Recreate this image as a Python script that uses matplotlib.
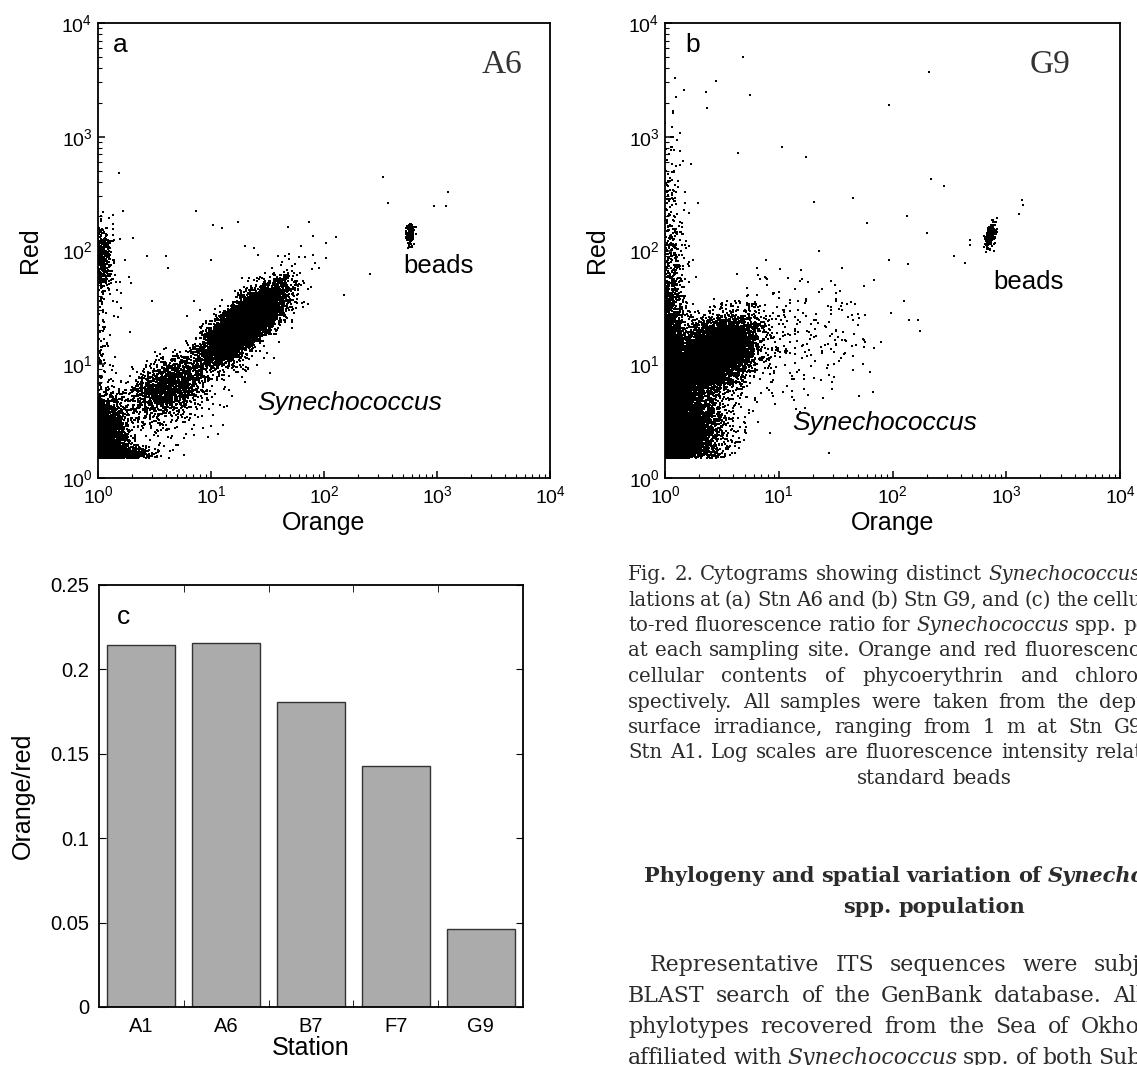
#!/usr/bin/env python3
"""
Fig. 2: flow cytograms for Stn A6 and G9 plus the orange/red ratio by station,
with the caption and the following section start set beside them.
"""

import matplotlib
matplotlib.use("Agg")
import matplotlib.pyplot as plt
import numpy as np
from matplotlib.ticker import LogLocator, NullFormatter, FixedLocator, FixedFormatter
from matplotlib.transforms import IdentityTransform

W_PX, H_PX = 1137, 1065

# ---- panel c -------------------------------------------------------------
STATIONS = ["A1", "A6", "B7", "F7", "G9"]
ORANGE_RED = [0.2145, 0.2155, 0.1805, 0.1425, 0.0465]

# ---- cytograms -----------------------------------------------------------
# Event clouds, in log10 units of (orange, red):
# (x centre, y centre, sd along main axis, sd across, main axis angle deg, events)
# Events below channel 1 pile up on the axis, and nothing is recorded under 1.5 red.
RED_FLOOR = np.log10(1.5)

A6_CLUSTERS = [
    (1.30, 1.36, 0.21, 0.075, 42, 8000),   # Synechococcus core
    (1.25, 1.30, 0.30, 0.120, 42, 900),    # its halo
    (0.62, 0.80, 0.18, 0.105, 30, 1500),   # dimmer tail
    (0.60, 0.65, 0.28, 0.160, 30, 320),
    (0.00, 0.38, 0.17, 0.120, 90, 2200),   # noise in the corner
    (0.18, 0.21, 0.13, 0.035, 0, 900),     # band on the trigger threshold
    (0.00, 1.93, 0.13, 0.060, 90, 380),    # red-only particles on the axis
    (0.00, 1.80, 0.30, 0.110, 90, 70),
    (0.00, 1.10, 0.25, 0.040, 90, 50),
    (2.76, 2.14, 0.045, 0.017, 88, 170),   # beads
]
A6_OUT_X = [0.19, 0.87, 1.02, 1.10, 1.24, 1.68, 1.87, 2.11, 2.52, 2.57, 2.97, 3.08,
            3.10, 2.41, 2.18, 0.43, 0.60, 0.62, 1.00, 1.30, 1.38, 1.42, 0.31, 0.27,
            0.48, 0.85, 0.79, 0.15, 0.06, 1.52, 1.41, 0.97, 0.76, 0.85, 1.14, 0.05,
            0.03, 1.80, 1.90, 1.78, 1.92, 1.96, 2.02]
A6_OUT_Y = [2.68, 2.35, 2.22, 2.20, 2.25, 2.21, 2.25, 2.12, 2.65, 2.42, 2.39, 2.39,
            2.51, 1.79, 1.61, 1.95, 1.95, 1.85, 1.92, 2.04, 2.02, 1.96, 2.11, 1.77,
            1.56, 1.56, 1.42, 1.06, 1.16, 0.92, 0.99, 0.36, 0.35, 0.38, 0.63, 1.31,
            1.03, 2.04, 2.13, 1.94, 1.89, 1.85, 2.07]

G9_CLUSTERS = [
    (0.00, 0.90, 0.42, 0.080, 90, 3500),   # strip on the orange axis
    (0.00, 0.45, 0.22, 0.180, 90, 5000),   # corner
    (0.40, 1.08, 0.20, 0.120, 35, 7000),   # Synechococcus
    (0.45, 1.00, 0.30, 0.180, 35, 900),
    (0.32, 0.45, 0.18, 0.160, 0, 600),
    (0.00, 2.00, 0.50, 0.100, 90, 260),    # red-only particles
    (1.15, 1.25, 0.40, 0.300, 20, 230),    # sparse scatter
    (2.86, 2.13, 0.055, 0.022, 75, 170),   # beads
]
G9_OUT_X = [0.69, 2.32, 1.97, 0.17, 0.36, 0.45, 0.75, 0.37, 1.03, 1.24, 0.64, 2.34,
            2.45, 1.65, 1.31, 2.13, 1.78, 2.30, 3.14, 3.15, 3.11, 2.54, 2.64, 2.68,
            2.68, 2.14, 1.84, 1.75, 1.76, 1.65, 1.74, 1.65, 1.47, 0.92, 1.39, 0.81,
            1.15]
G9_OUT_Y = [3.70, 3.57, 3.28, 3.41, 3.39, 3.49, 3.37, 3.25, 2.91, 2.82, 2.86, 2.63,
            2.57, 2.46, 2.43, 2.30, 2.24, 2.15, 2.44, 2.40, 2.32, 1.95, 1.89, 2.09,
            2.05, 1.88, 1.74, 1.21, 1.20, 1.07, 1.00, 0.95, 0.84, 0.40, 0.70, 0.67,
            0.61]

# ---- caption and running text ----------------------------------------------
CAPTION = [
    "Fig. 2. Cytograms showing distinct _Synechococcus_ subpopu-",
    "lations at (a) Stn A6 and (b) Stn G9, and (c) the cellular orange-",
    "to-red fluorescence ratio for _Synechococcus_ spp. populations",
    "at each sampling site. Orange and red fluorescence indicate",
    "cellular contents of phycoerythrin and chlorophyll, re-",
    "spectively. All samples were taken from the depth of 10%",
    "surface irradiance, ranging from 1 m at Stn G9 to 27 m",
    "Stn A1. Log scales are fluorescence intensity relative to the",
]
CAPTION_LAST = "standard beads"
HEADING = ["Phylogeny and spatial variation of _Synechococcus_", "spp. population"]
BODY = [
    "Representative ITS sequences were subjected to",
    "BLAST search of the GenBank database. All the ITS",
    "phylotypes recovered from the Sea of Okhotsk were",
    "affiliated with _Synechococcus_ spp. of both Subcluster 5.1",
]

SANS = "Liberation Sans"
SERIF = "DejaVu Serif"
TEXT_GRAY = "#2b2b2b"
COL_LEFT, COL_RIGHT = 628, 1240

plt.rcParams["font.family"] = [SANS, "DejaVu Sans"]


def events(rng, clusters, out_x, out_y):
    xs, ys = [], []
    for cx, cy, s1, s2, ang, n in clusters:
        t = np.deg2rad(ang)
        u = rng.normal(0, s1, n)
        v = rng.normal(0, s2, n)
        xs.append(cx + u * np.cos(t) - v * np.sin(t))
        ys.append(cy + u * np.sin(t) + v * np.cos(t))
    x = np.abs(np.concatenate(xs + [np.array(out_x)]))
    y = np.concatenate(ys + [np.array(out_y)])
    y = RED_FLOOR + np.abs(y - RED_FLOOR)
    return 10 ** x, 10 ** y


def cytogram(ax, x, y, tag, tag_xy, station, station_xy, beads_xy, syn_xy):
    ax.scatter(x, y, s=1.8, marker="s", c="black", linewidths=0)
    ax.set_xscale("log")
    ax.set_yscale("log")
    ax.set_xlim(1, 1e4)
    ax.set_ylim(1, 1e4)
    for axis in (ax.xaxis, ax.yaxis):
        axis.set_major_locator(LogLocator(base=10, numticks=10))
        axis.set_minor_locator(LogLocator(base=10, subs=np.arange(2, 10), numticks=10))
        axis.set_minor_formatter(NullFormatter())
    ax.tick_params(which="both", direction="in", top=False, right=False, labelsize=14)
    ax.tick_params(axis="x", which="major", pad=5)
    ax.tick_params(axis="y", which="major", pad=4)
    ax.tick_params(which="major", length=5, width=1.1)
    ax.tick_params(which="minor", length=3, width=0.8)
    for sp in ax.spines.values():
        sp.set_linewidth(1.3)
    ax.set_xlabel("Orange", fontsize=18, labelpad=3)
    ax.set_ylabel("Red", fontsize=18, labelpad=14)
    ax.text(*tag_xy, tag, transform=ax.transAxes, fontsize=19, ha="left", va="center")
    ax.text(*station_xy, station, transform=ax.transAxes, fontsize=24, ha="right",
            va="center", family="Liberation Serif", color="#333333")
    ax.text(*beads_xy, "beads", fontsize=18.5, ha="left", va="center")
    ax.text(*syn_xy, "Synechococcus", fontsize=19, style="italic", ha="left", va="center")


def split_words(line):
    out = []
    for w in line.split():
        if w.startswith("_") and w.endswith("_"):
            out.append((w.strip("_"), True))
        else:
            out.append((w, False))
    return out


def put_line(fig, renderer, line, base_y, size, weight="normal", indent=0,
             justify=True, center=None):
    px = IdentityTransform()
    items = []
    for w, it in split_words(line):
        t = fig.text(0, 0, w, transform=px, fontsize=size, family=SERIF,
                     style="italic" if it else "normal", weight=weight,
                     color=TEXT_GRAY, ha="left", va="baseline")
        items.append((t, t.get_window_extent(renderer).width))
    space = size * 100 / 72 * 0.318
    total = sum(w for _, w in items)
    x = COL_LEFT + indent
    gap = space
    if justify and len(items) > 1:
        gap = max((COL_RIGHT - x - total) / (len(items) - 1), 0.8 * space)
    if center is not None:
        x = center - (total + space * (len(items) - 1)) / 2
    for t, w in items:
        t.set_position((x, H_PX - base_y))
        x += w + gap


def main():
    rng = np.random.default_rng(7)
    fig = plt.figure(figsize=(W_PX / 100, H_PX / 100), dpi=100)

    ax_a = fig.add_axes([98 / W_PX, 1 - 478 / H_PX, 452 / W_PX, 455 / H_PX])
    ax_b = fig.add_axes([665 / W_PX, 1 - 478 / H_PX, 455 / W_PX, 455 / H_PX])
    ax_c = fig.add_axes([99 / W_PX, 1 - 1007 / H_PX, 424 / W_PX, 422 / H_PX])

    xa, ya = events(rng, A6_CLUSTERS, A6_OUT_X, A6_OUT_Y)
    cytogram(ax_a, xa, ya, "a", (0.033, 0.952), "A6", (0.939, 0.908), (500, 73), (25.9, 4.6))
    xb, yb = events(rng, G9_CLUSTERS, G9_OUT_X, G9_OUT_Y)
    cytogram(ax_b, xb, yb, "b", (0.044, 0.952), "G9", (0.892, 0.909), (766, 53), (13.1, 3.03))

    pos = np.arange(len(STATIONS))
    ax_c.bar(pos, ORANGE_RED, width=0.8, color="#ababab", edgecolor="#333333", linewidth=1.0)
    ax_c.set_xlim(-0.5, len(STATIONS) - 0.5)
    ax_c.set_ylim(0, 0.25)
    ax_c.set_xticks(pos)
    ax_c.set_xticklabels(STATIONS)
    ax_c.xaxis.set_minor_locator(FixedLocator(pos[:-1] + 0.5))
    ax_c.yaxis.set_major_locator(FixedLocator([0, 0.05, 0.1, 0.15, 0.2, 0.25]))
    ax_c.yaxis.set_major_formatter(FixedFormatter(["0", "0.05", "0.1", "0.15", "0.2", "0.25"]))
    ax_c.tick_params(axis="x", which="major", length=0, pad=7, labelsize=14.5)
    ax_c.tick_params(axis="x", which="minor", direction="in", length=5, top=True, bottom=True)
    ax_c.tick_params(axis="y", direction="in", length=5, left=True, right=True,
                     labelsize=14.5, pad=7)
    for sp in ax_c.spines.values():
        sp.set_linewidth(1.3)
    ax_c.set_xlabel("Station", fontsize=18, labelpad=0)
    ax_c.set_ylabel("Orange/red", fontsize=18, labelpad=11)
    ax_c.text(0.042, 0.925, "c", transform=ax_c.transAxes, fontsize=19, ha="left", va="center")

    renderer = fig.canvas.get_renderer()
    cap_size = 14.2
    for i, line in enumerate(CAPTION):
        put_line(fig, renderer, line, 580 + 25.5 * i, cap_size)
    put_line(fig, renderer, CAPTION_LAST, 580 + 25.5 * len(CAPTION), cap_size,
             justify=False, center=(COL_LEFT + COL_RIGHT) / 2)

    for i, line in enumerate(HEADING):
        put_line(fig, renderer, line, 882 + 31 * i, 15, weight="bold",
                 justify=False, center=(COL_LEFT + COL_RIGHT) / 2)

    for i, line in enumerate(BODY):
        put_line(fig, renderer, line, 971 + 31 * i, 15.8, indent=22 if i == 0 else 0)

    fig.savefig("out.png", dpi=100)
    plt.close(fig)


if __name__ == "__main__":
    main()
